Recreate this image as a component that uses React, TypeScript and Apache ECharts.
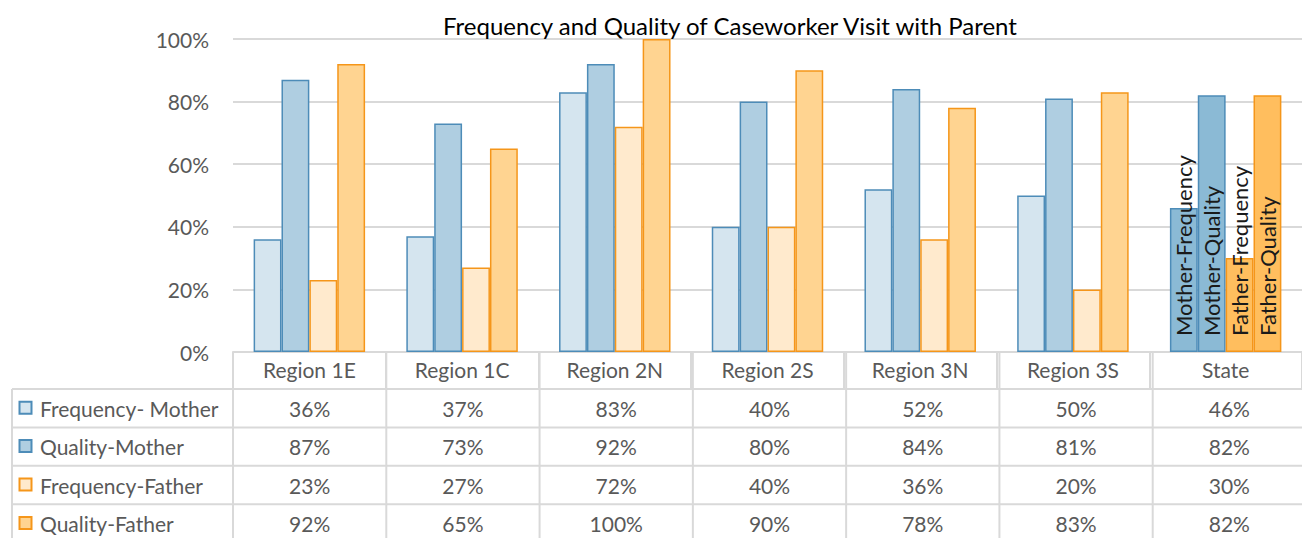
import React, { useEffect, useRef } from "react";
import * as echarts from "echarts";

const categories = ["Region 1E", "Region 1C", "Region 2N", "Region 2S", "Region 3N", "Region 3S", "State"];
const seriesNames = ["Frequency- Mother", "Quality-Mother", "Frequency-Father", "Quality-Father"];
const stateLabels = ["Mother-Frequency", "Mother-Quality", "Father-Frequency", "Father-Quality"];
const freqMother = [36, 37, 83, 40, 52, 50, 46];
const qualMother = [87, 73, 92, 80, 84, 81, 82];
const freqFather = [23, 27, 72, 40, 36, 20, 30];
const qualFather = [92, 65, 100, 90, 78, 83, 82];
const yTicks = [0, 20, 40, 60, 80, 100];

const fills = ["#D5E5EF", "#AFCEE1", "#FFEACD", "#FFD491"];
const borders = ["#4D8CB8", "#4D8CB8", "#F5961A", "#F5961A"];
const stateFills = ["#8BBAD5", "#8BBAD5", "#FFBE5E", "#FFBE5E"];

const FONT = "Lato";
const FS = 21;
const GREY = "#595959";
const LINE = "#D9D9D9";
const GRID_LEFT = 233;
const GRID_TOP = 39;
const GRID_H = 313;
const GRID_W = 1073;
const TABLE_LEFT = 12;
const HEADER_BOTTOM = 389;
const ROW_H = 38.4;

export default function App() {
  const ref = useRef<HTMLDivElement>(null);
  useEffect(() => {
    if (!ref.current) return;
    const chart = echarts.init(ref.current, undefined, { renderer: "svg" });
    const allData = [freqMother, qualMother, freqFather, qualFather];
    const colW = GRID_W / categories.length;
    const axisY = GRID_TOP + GRID_H;

    const graphics: any[] = [];
    for (let r = 0; r <= 4; r++) {
      const y = HEADER_BOTTOM + r * ROW_H;
      graphics.push({
        type: "line",
        shape: { x1: TABLE_LEFT, y1: y, x2: GRID_LEFT + GRID_W, y2: y },
        style: { stroke: LINE, lineWidth: 2 },
        silent: true,
      });
    }
    graphics.push({
      type: "line",
      shape: { x1: TABLE_LEFT, y1: HEADER_BOTTOM, x2: TABLE_LEFT, y2: HEADER_BOTTOM + 4 * ROW_H },
      style: { stroke: LINE, lineWidth: 2 },
      silent: true,
    });
    for (let c = 0; c <= categories.length; c++) {
      const x = GRID_LEFT + c * colW;
      graphics.push({
        type: "line",
        shape: { x1: x, y1: axisY, x2: x, y2: HEADER_BOTTOM + 4 * ROW_H },
        style: { stroke: LINE, lineWidth: 2 },
        silent: true,
      });
    }
    allData.forEach((arr, r) => {
      const cy = HEADER_BOTTOM + (r + 0.5) * ROW_H;
      graphics.push({
        type: "rect",
        shape: { x: 19.5, y: cy - 6.5, width: 12, height: 12 },
        style: { fill: fills[r], stroke: borders[r], lineWidth: 2 },
        silent: true,
      });
      graphics.push({
        type: "text",
        x: 40,
        y: cy,
        style: { text: seriesNames[r], font: `${FS}px ${FONT}`, fill: GREY, align: "left", verticalAlign: "middle" },
        silent: true,
      });
      arr.forEach((v, c) => {
        graphics.push({
          type: "text",
          x: GRID_LEFT + (c + 0.5) * colW,
          y: cy,
          style: { text: v + "%", font: `${FS}px ${FONT}`, fill: GREY, align: "center", verticalAlign: "middle" },
          silent: true,
        });
      });
    });

    const series = allData.map((arr, s) => ({
      name: seriesNames[s],
      type: "bar",
      barGap: "0%",
      barCategoryGap: "27%",
      itemStyle: { color: fills[s], borderColor: borders[s], borderWidth: 1.5 },
      data: arr.map((v, c) =>
        c === categories.length - 1
          ? {
              value: v,
              itemStyle: { color: stateFills[s], borderColor: borders[s], borderWidth: 1.5 },
              label: {
                show: true,
                position: "insideBottom",
                rotate: 90,
                align: "left",
                verticalAlign: "middle",
                distance: 16,
                formatter: stateLabels[s],
                color: "#1A1A1A",
                fontFamily: FONT,
                fontSize: 22,
              },
            }
          : v
      ),
    }));

    chart.setOption({
      animation: false,
      title: {
        text: "Frequency and Quality of Caseworker Visit with Parent",
        left: 725,
        textAlign: "center",
        top: 8,
        textStyle: { fontFamily: FONT, fontSize: 24, fontWeight: "normal", color: "#000000" },
      },
      grid: { left: GRID_LEFT, top: GRID_TOP, width: GRID_W, height: GRID_H },
      xAxis: {
        type: "category",
        data: categories,
        axisLine: { show: true, lineStyle: { color: LINE, width: 2 } },
        axisTick: { show: true, length: HEADER_BOTTOM - axisY, lineStyle: { color: LINE, width: 2 } },
        axisLabel: { interval: 0, margin: 7, color: GREY, fontFamily: FONT, fontSize: FS },
      },
      yAxis: {
        type: "value",
        min: yTicks[0],
        max: yTicks[yTicks.length - 1],
        interval: yTicks[1] - yTicks[0],
        axisLine: { show: false },
        axisTick: { show: false },
        splitLine: { lineStyle: { color: LINE, width: 2 } },
        axisLabel: { formatter: "{value}%", margin: 24, color: GREY, fontFamily: FONT, fontSize: FS },
      },
      series,
      graphic: graphics,
    });
    return () => chart.dispose();
  }, []);
  return <div ref={ref} style={{ position: "absolute", left: 0, top: 0, width: 1302, height: 538 }} />;
}
